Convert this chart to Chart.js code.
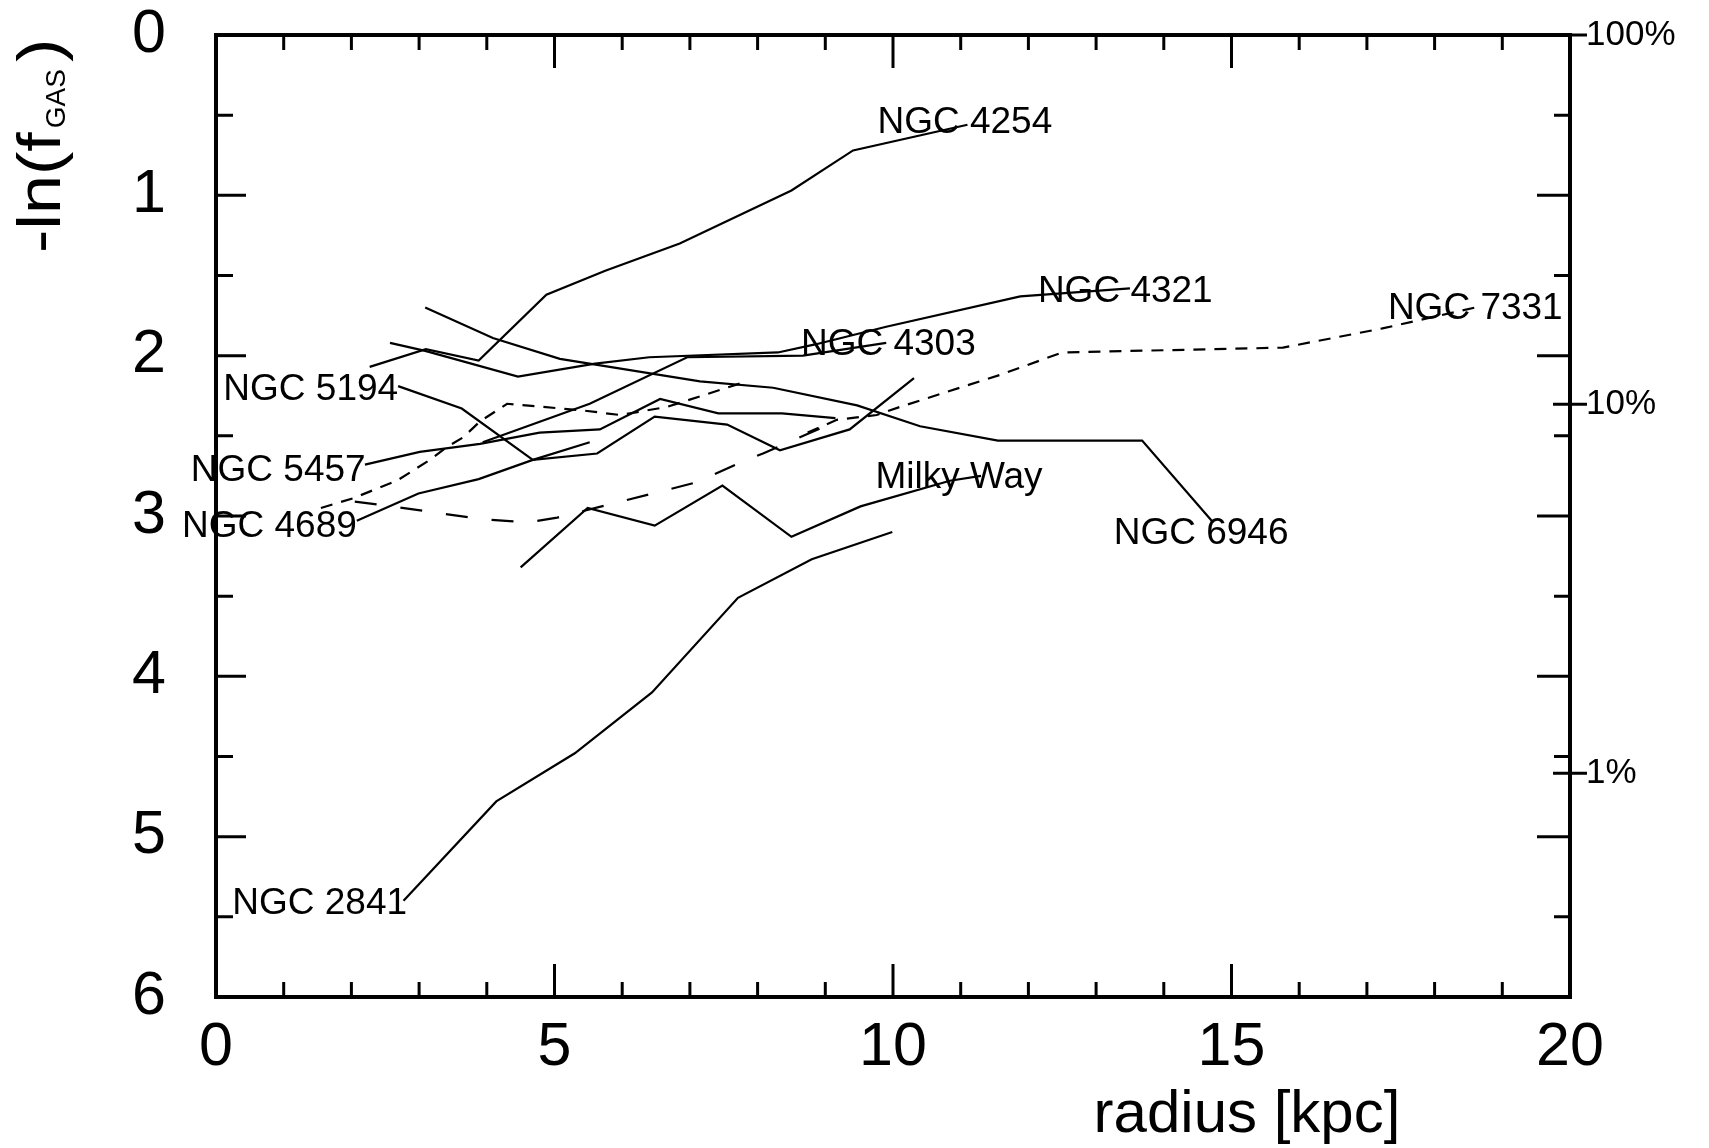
<!DOCTYPE html>
<html>
<head>
<meta charset="utf-8">
<title>Gas fraction profiles</title>
<script src="https://cdn.jsdelivr.net/npm/chart.js@4.4.1/dist/chart.umd.min.js"></script>
<style>
  html, body { margin: 0; padding: 0; background: #fff; }
  #wrap { width: 1709px; height: 1148px; }
</style>
</head>
<body>
<div id="wrap"><canvas id="fgasChart" width="1709" height="1148"></canvas></div>
<script>
// ---- DATA (radius in kpc, -ln(f_GAS)) ----
const ngc4254R = [2.27, 3.10, 3.88, 4.88, 5.75, 6.85, 8.50, 9.41, 11.10];
const ngc4254Y = [2.07, 1.96, 2.03, 1.62, 1.47, 1.30, 0.97, 0.72, 0.56];

const ngc4321R = [2.57, 3.09, 4.46, 5.60, 6.40, 8.30, 8.85, 9.90, 11.88, 13.50];
const ngc4321Y = [1.92, 1.97, 2.13, 2.05, 2.01, 1.98, 1.93, 1.82, 1.63, 1.58];

const ngc6946R = [3.09, 4.09, 5.08, 7.15, 8.23, 9.47, 10.40, 11.55, 13.68, 14.73];
const ngc6946Y = [1.70, 1.89, 2.02, 2.16, 2.20, 2.31, 2.44, 2.53, 2.53, 3.04];

const ngc4303R = [3.94, 5.52, 6.96, 8.67, 9.90];
const ngc4303Y = [2.54, 2.30, 2.01, 2.00, 1.92];

const ngc5457R = [2.20, 3.01, 3.90, 4.78, 5.67, 6.56, 7.42, 8.36, 9.15];
const ngc5457Y = [2.68, 2.60, 2.55, 2.48, 2.46, 2.27, 2.36, 2.36, 2.39];

const ngc5194R = [2.69, 3.63, 4.68, 5.63, 6.48, 7.55, 8.33, 9.36, 10.31];
const ngc5194Y = [2.19, 2.33, 2.65, 2.61, 2.38, 2.43, 2.59, 2.46, 2.14];

const ngc4689R = [2.08, 2.99, 3.88, 4.68, 5.52];
const ngc4689Y = [3.03, 2.86, 2.77, 2.65, 2.54];

const milkyWayR = [4.50, 5.49, 6.48, 7.48, 8.50, 9.52, 10.84, 11.30];
const milkyWayY = [3.32, 2.95, 3.06, 2.81, 3.13, 2.94, 2.78, 2.75];

const ngc2841R = [2.77, 4.14, 5.30, 6.44, 7.71, 8.80, 9.99];
const ngc2841Y = [5.40, 4.78, 4.48, 4.10, 3.51, 3.27, 3.10];

const ngc7331R = [8.74, 9.17, 9.76, 10.10, 11.58, 12.50, 15.76, 17.23, 18.60];
const ngc7331Y = [2.48, 2.40, 2.37, 2.32, 2.12, 1.98, 1.95, 1.83, 1.70];

const shortDashR = [1.55, 2.02, 2.67, 3.16, 3.41, 3.65, 3.90, 4.30, 5.38, 5.97, 6.66, 7.84];
const shortDashY = [2.95, 2.89, 2.78, 2.65, 2.57, 2.51, 2.41, 2.30, 2.34, 2.37, 2.32, 2.16];

const longDashR = [2.05, 2.60, 3.26, 3.94, 4.60, 5.04, 6.07, 7.10, 7.78, 8.08, 9.11];
const longDashY = [2.91, 2.94, 2.98, 3.02, 3.04, 3.01, 2.90, 2.79, 2.66, 2.61, 2.42];

// right axis: gas fraction in percent
const pctLabels = ['100%', '10%', '1%'];
const pctValues = [100, 10, 1];

// ---- helpers ----
const FONT = '"Liberation Sans", Arial, Helvetica, sans-serif';
const SHORT = [12, 9];
const LONG = [22, 24];

function pts(rs, ys) {
  return rs.map((r, i) => ({ x: r, y: ys[i] }));
}
function line(label, rs, ys, dash) {
  return {
    label: label,
    data: pts(rs, ys),
    showLine: true,
    borderColor: '#000',
    borderWidth: 2.2,
    borderDash: dash || [],
    pointRadius: 0,
    tension: 0,
    fill: false
  };
}

// galaxy name tags placed in data coordinates
const tags = [
  { text: 'NGC 4254', r: 9.77, v: 0.55, align: 'left' },
  { text: 'NGC 4321', r: 12.14, v: 1.60, align: 'left' },
  { text: 'NGC 7331', r: 17.31, v: 1.71, align: 'left' },
  { text: 'NGC 4303', r: 8.64, v: 1.93, align: 'left' },
  { text: 'NGC 5194', r: 2.69, v: 2.21, align: 'right' },
  { text: 'NGC 5457', r: 2.21, v: 2.72, align: 'right' },
  { text: 'NGC 4689', r: 2.08, v: 3.07, align: 'right' },
  { text: 'Milky Way', r: 9.74, v: 2.76, align: 'left' },
  { text: 'NGC 6946', r: 13.26, v: 3.11, align: 'left' },
  { text: 'NGC 2841', r: 0.24, v: 5.42, align: 'left' }
];

// frame, inward ticks, tags and axis titles
const decor = {
  id: 'decor',
  afterDatasetsDraw(chart) {
    const { ctx, chartArea: a, scales } = chart;
    const x = scales.x, y = scales.y, y2 = scales.y2;
    ctx.save();
    ctx.strokeStyle = '#000';
    ctx.lineWidth = 4;
    ctx.strokeRect(a.left, a.top, a.right - a.left, a.bottom - a.top);

    ctx.lineWidth = 3;
    ctx.beginPath();
    for (let r = 0; r <= 20; r++) {
      const px = x.getPixelForValue(r);
      const len = r % 5 === 0 ? 33 : 15;
      ctx.moveTo(px, a.bottom); ctx.lineTo(px, a.bottom - len);
      ctx.moveTo(px, a.top); ctx.lineTo(px, a.top + len);
    }
    for (let k = 0; k <= 12; k++) {
      const v = k / 2;
      const py = y.getPixelForValue(v);
      const major = k % 2 === 0;
      ctx.moveTo(a.left, py); ctx.lineTo(a.left + (major ? 30 : 17), py);
      ctx.moveTo(a.right, py); ctx.lineTo(a.right - (major ? 33 : 16), py);
    }
    pctValues.forEach(p => {
      const py = y2.getPixelForValue(-Math.log(p / 100));
      ctx.moveTo(a.right - 17, py); ctx.lineTo(a.right + 17, py);
    });
    ctx.stroke();

    ctx.fillStyle = '#000';
    ctx.font = '37px ' + FONT;
    ctx.textBaseline = 'middle';
    tags.forEach(t => {
      ctx.textAlign = t.align;
      ctx.fillText(t.text, x.getPixelForValue(t.r), y.getPixelForValue(t.v));
    });

    // x title
    ctx.font = '60px ' + FONT;
    ctx.textAlign = 'center';
    ctx.textBaseline = 'alphabetic';
    ctx.fillText('radius [kpc]', 1247, 1132);

    // y title with subscript (the big glyphs are a bit wider in the original)
    ctx.translate(60, 253);
    ctx.rotate(-Math.PI / 2);
    ctx.textAlign = 'left';
    let pos = 0;
    ctx.save();
    ctx.scale(1.15, 1);
    ctx.font = '61px ' + FONT;
    ctx.fillText('-ln(f', 0, 0);
    pos += ctx.measureText('-ln(f').width * 1.15 + 4;
    ctx.restore();
    ctx.font = '28px ' + FONT;
    ctx.fillText('GAS', pos, 5);
    pos += ctx.measureText('GAS').width + 7;
    ctx.translate(pos, 0);
    ctx.scale(1.15, 1);
    ctx.font = '61px ' + FONT;
    ctx.fillText(')', 0, 0);
    ctx.restore();
  }
};

function noEndPad(s) {
  s.paddingTop = 0; s.paddingBottom = 0;
  s.paddingLeft = 0; s.paddingRight = 0;
}

new Chart(document.getElementById('fgasChart'), {
  type: 'scatter',
  data: {
    datasets: [
      line('NGC 4254', ngc4254R, ngc4254Y),
      line('NGC 4321', ngc4321R, ngc4321Y),
      line('NGC 6946', ngc6946R, ngc6946Y),
      line('NGC 4303', ngc4303R, ngc4303Y),
      line('NGC 5457', ngc5457R, ngc5457Y),
      line('NGC 5194', ngc5194R, ngc5194Y),
      line('NGC 4689', ngc4689R, ngc4689Y),
      line('Milky Way', milkyWayR, milkyWayY),
      line('NGC 2841', ngc2841R, ngc2841Y),
      line('NGC 7331', ngc7331R, ngc7331Y, SHORT),
      line('inner short dash', shortDashR, shortDashY, SHORT),
      line('long dash', longDashR, longDashY, LONG)
    ]
  },
  options: {
    responsive: false,
    animation: false,
    layout: { padding: { top: 35, left: 0, right: 0, bottom: 0 } },
    plugins: { legend: { display: false }, tooltip: { enabled: false } },
    scales: {
      x: {
        type: 'linear', min: 0, max: 20,
        grid: { display: false, drawTicks: false },
        border: { display: false },
        ticks: { stepSize: 5, padding: 15, color: '#000', font: { size: 61, family: FONT } },
        afterFit(s) { s.height = 151; noEndPad(s); }
      },
      y: {
        type: 'linear', min: 0, max: 6, reverse: true,
        grid: { display: false, drawTicks: false },
        border: { display: false },
        ticks: { stepSize: 1, padding: 50, color: '#000', font: { size: 61, family: FONT } },
        afterFit(s) { s.width = 216; noEndPad(s); }
      },
      y2: {
        type: 'linear', position: 'right', min: 0, max: 6, reverse: true,
        grid: { display: false, drawTicks: false },
        border: { display: false },
        afterBuildTicks(s) { s.ticks = pctValues.map(p => ({ value: -Math.log(p / 100) })); },
        ticks: {
          padding: 16, color: '#000', font: { size: 35, family: FONT },
          callback: (v, i) => pctLabels[i]
        },
        afterFit(s) { s.width = 139; noEndPad(s); }
      }
    }
  },
  plugins: [decor]
});
</script>
</body>
</html>
